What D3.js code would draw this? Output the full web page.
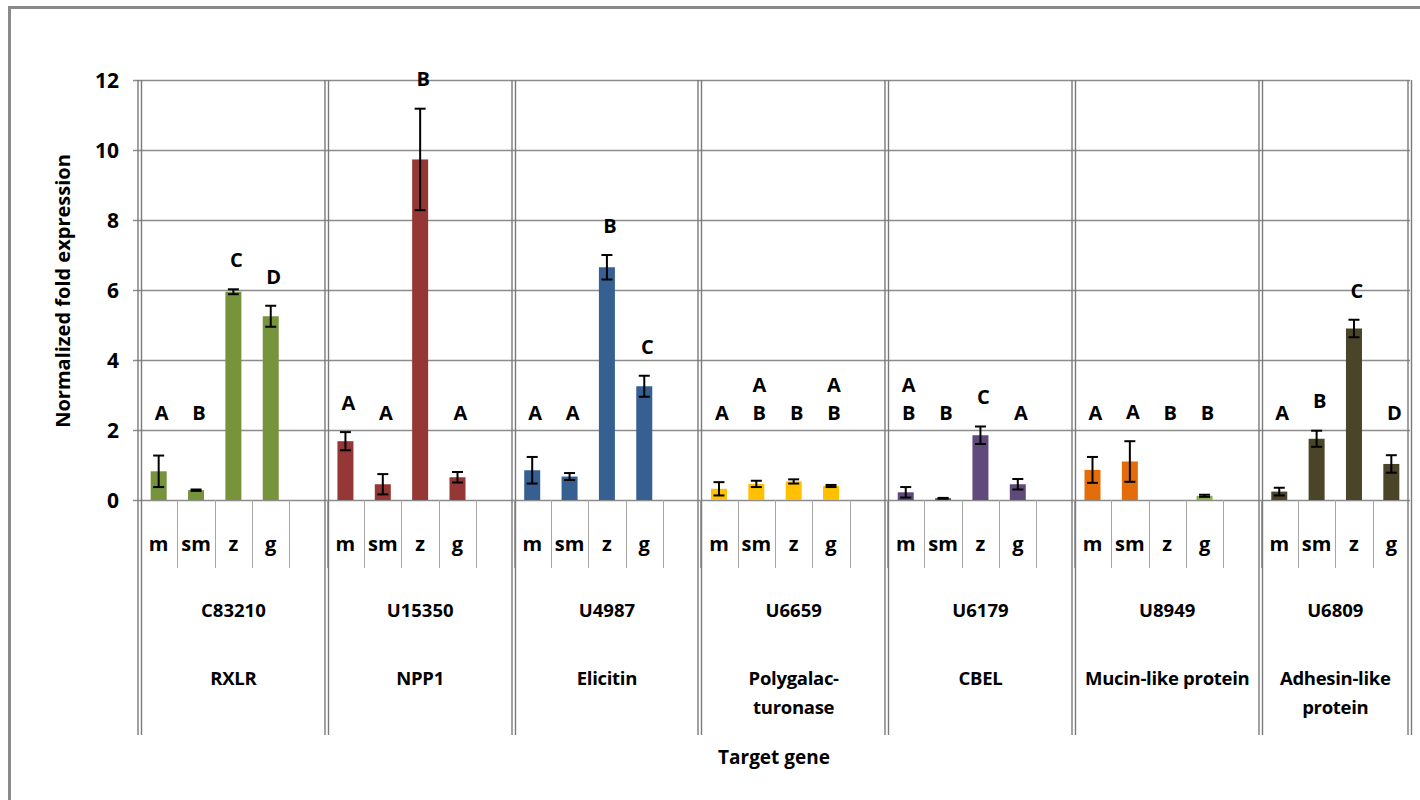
<!DOCTYPE html>
<html>
<head>
<meta charset="utf-8">
<script src="https://cdn.jsdelivr.net/npm/d3@7"></script>
<style>
  html, body { margin: 0; padding: 0; background: #fff; }
  svg { display: block; }
  text { font-family: "Open Sans", Lato, sans-serif; font-weight: 700; fill: #000; }
</style>
</head>
<body>
<svg id="chart" width="1420" height="800"></svg>
<script>
// Target genes (second label row) and their annotated function (third row)
const genes = ["C83210", "U15350", "U4987", "U6659", "U6179", "U8949", "U6809"];
const functions = ["RXLR", "NPP1", "Elicitin", "Polygalac-|turonase", "CBEL", "Mucin-like protein", "Adhesin-like|protein"];
// Life stages (first label row); every gene but the last has a trailing blank slot
const stages = ["m", "sm", "z", "g"];
const slotsPerGene = [5, 5, 5, 5, 5, 5, 4];

// Normalized fold expression per gene, in stage order m, sm, z, g
const meanRXLR     = [0.82, 0.28, 5.95, 5.25];
const meanNPP1     = [1.68, 0.45, 9.73, 0.65];
const meanElicitin = [0.85, 0.67, 6.65, 3.25];
const meanPG       = [0.32, 0.46, 0.53, 0.40];
const meanCBEL     = [0.22, 0.05, 1.85, 0.45];
const meanMucin    = [0.86, 1.10, 0.00, 0.12];
const meanAdhesin  = [0.24, 1.75, 4.90, 1.03];

// Error bar half-lengths
const errRXLR     = [0.45, 0.02, 0.07, 0.30];
const errNPP1     = [0.26, 0.29, 1.45, 0.15];
const errElicitin = [0.38, 0.10, 0.35, 0.30];
const errPG       = [0.19, 0.09, 0.06, 0.03];
const errCBEL     = [0.15, 0.01, 0.25, 0.15];
const errMucin    = [0.37, 0.58, 0.00, 0.03];
const errAdhesin  = [0.11, 0.23, 0.25, 0.25];

// Significance letters (stacked letters separated by "|", top first)
const lettersRXLR     = ["A", "B", "C", "D"];
const lettersNPP1     = ["A", "A", "B", "A"];
const lettersElicitin = ["A", "A", "B", "C"];
const lettersPG       = ["A", "A|B", "B", "A|B"];
const lettersCBEL     = ["A|B", "B", "C", "A"];
const lettersMucin    = ["A", "A", "B", "B"];
const lettersAdhesin  = ["A", "B", "C", "D"];

// Y axis ticks
const yTicks = [0, 2, 4, 6, 8, 10, 12];

const means = [meanRXLR, meanNPP1, meanElicitin, meanPG, meanCBEL, meanMucin, meanAdhesin];
const errors = [errRXLR, errNPP1, errElicitin, errPG, errCBEL, errMucin, errAdhesin];
const letters = [lettersRXLR, lettersNPP1, lettersElicitin, lettersPG, lettersCBEL, lettersMucin, lettersAdhesin];

// Fill colour per gene
const geneColors = ["#77933C", "#953735", "#376092", "#FFC000", "#604A7B", "#E46C0A", "#4A4429"];

// ---- build flat category list ----
const slots = [];
const groups = [];
let idx = 0;
genes.forEach((g, gi) => {
  groups.push({ gi, start: idx, count: slotsPerGene[gi] });
  for (let s = 0; s < slotsPerGene[gi]; s++) {
    slots.push({ id: idx, gi, s, label: stages[s] || "" });
    idx++;
  }
});
const bars = [];
slots.forEach(sl => {
  if (sl.s < stages.length) {
    bars.push({
      id: sl.id, gi: sl.gi, s: sl.s,
      v: means[sl.gi][sl.s], e: errors[sl.gi][sl.s],
      letter: letters[sl.gi][sl.s]
    });
  }
});

const svg = d3.select("#chart");
const plotLeft = 140, plotRight = 1410, plotTop = 80, zeroY = 500;

const x = d3.scaleBand().domain(slots.map(d => d.id)).range([plotLeft, plotRight]).paddingInner(0).paddingOuter(0);
const y = d3.scaleLinear().domain([0, 12]).range([zeroY, plotTop]);
const bw = x.bandwidth();
const edge = k => plotLeft + k * bw;

// outer frame
svg.append("rect").attr("x", 9.5).attr("y", 7.5).attr("width", 1440).attr("height", 820)
  .attr("fill", "none").attr("stroke", "#8a8a8a").attr("stroke-width", 3);

// gridlines
svg.append("g").selectAll("line").data(yTicks).join("line")
  .attr("x1", plotLeft - 7).attr("x2", plotRight)
  .attr("y1", d => Math.round(y(d)) + 0.5).attr("y2", d => Math.round(y(d)) + 0.5)
  .attr("stroke", "#8c8c8c").attr("stroke-width", 1.3);

// y tick labels
svg.append("g").selectAll("text").data(yTicks).join("text")
  .attr("x", 119).attr("y", d => y(d)).attr("text-anchor", "end")
  .attr("dominant-baseline", "central").attr("font-size", 21).text(d => d);

// thin stage separators in the first label row
const innerEdges = d3.range(1, slots.length);
svg.append("g").selectAll("line").data(innerEdges).join("line")
  .attr("x1", k => Math.round(edge(k)) + 0.5).attr("x2", k => Math.round(edge(k)) + 0.5)
  .attr("y1", zeroY).attr("y2", 568)
  .attr("stroke", "#a6a6a6").attr("stroke-width", 1);

// gene separators: double lines across the plot and label rows
const groupEdges = groups.map(g => g.start).concat([slots.length]);
const sep = svg.append("g");
groupEdges.forEach(k => {
  const gx = Math.round(edge(k));
  [-2, 1.5].forEach(off => {
    sep.append("line")
      .attr("x1", gx + off).attr("x2", gx + off)
      .attr("y1", plotTop).attr("y2", 735)
      .attr("stroke", "#7a7a7a").attr("stroke-width", 1.4);
  });
});

// bars
const barW = 16;
svg.append("g").selectAll("rect").data(bars.filter(d => d.v > 0)).join("rect")
  .attr("x", d => x(d.id) + bw / 2 - barW / 2)
  .attr("y", d => y(d.v))
  .attr("width", barW)
  .attr("height", d => zeroY - y(d.v))
  .attr("fill", d => (d.gi === 5 && d.s === 3) ? "#8DB34F" : geneColors[d.gi]);

// error bars
const eg = svg.append("g").attr("stroke", "#000").attr("stroke-width", 2);
bars.filter(d => d.v > 0).forEach(d => {
  const cx = x(d.id) + bw / 2;
  const y1 = y(d.v + d.e), y0 = y(Math.max(0, d.v - d.e));
  eg.append("line").attr("x1", cx).attr("x2", cx).attr("y1", y1).attr("y2", y0);
  eg.append("line").attr("x1", cx - 5.5).attr("x2", cx + 5.5).attr("y1", y1).attr("y2", y1);
  eg.append("line").attr("x1", cx - 5.5).attr("x2", cx + 5.5).attr("y1", y0).attr("y2", y0);
});

// significance letters: at a common level, or just above tall error bars
const letterBase = 2.5;
const lg = svg.append("g");
bars.forEach(d => {
  const cx = x(d.id) + bw / 2 + 3;
  const level = Math.max(letterBase, d.v + d.e + 0.85);
  const parts = d.letter.split("|");
  parts.forEach((p, i) => {
    lg.append("text")
      .attr("x", cx).attr("y", y(level) - (parts.length - 1 - i) * 28)
      .attr("text-anchor", "middle").attr("dominant-baseline", "central")
      .attr("font-size", 20).text(p);
  });
});

// stage labels
svg.append("g").selectAll("text").data(slots).join("text")
  .attr("x", d => x(d.id) + bw / 2).attr("y", 543)
  .attr("text-anchor", "middle").attr("dominant-baseline", "central")
  .attr("font-size", 20).text(d => d.label);

// gene id labels and function labels
groups.forEach(g => {
  const cx = (edge(g.start) + edge(g.start + g.count)) / 2;
  svg.append("text").attr("x", cx).attr("y", 609)
    .attr("text-anchor", "middle").attr("dominant-baseline", "central")
    .attr("font-size", 18.5).text(genes[g.gi]);
  const lines = functions[g.gi].split("|");
  lines.forEach((ln, i) => {
    svg.append("text").attr("x", cx).attr("y", 677 + i * 29)
      .attr("text-anchor", "middle").attr("dominant-baseline", "central")
      .attr("font-size", 18.5).attr("letter-spacing", -0.3).text(ln);
  });
});

// axis titles
svg.append("text")
  .attr("transform", "translate(62,291) rotate(-90)")
  .attr("text-anchor", "middle").attr("dominant-baseline", "central")
  .attr("font-size", 20).text("Normalized fold expression");
svg.append("text").attr("x", 774).attr("y", 757)
  .attr("text-anchor", "middle").attr("dominant-baseline", "central")
  .attr("font-size", 19).text("Target gene");
</script>
</body>
</html>
